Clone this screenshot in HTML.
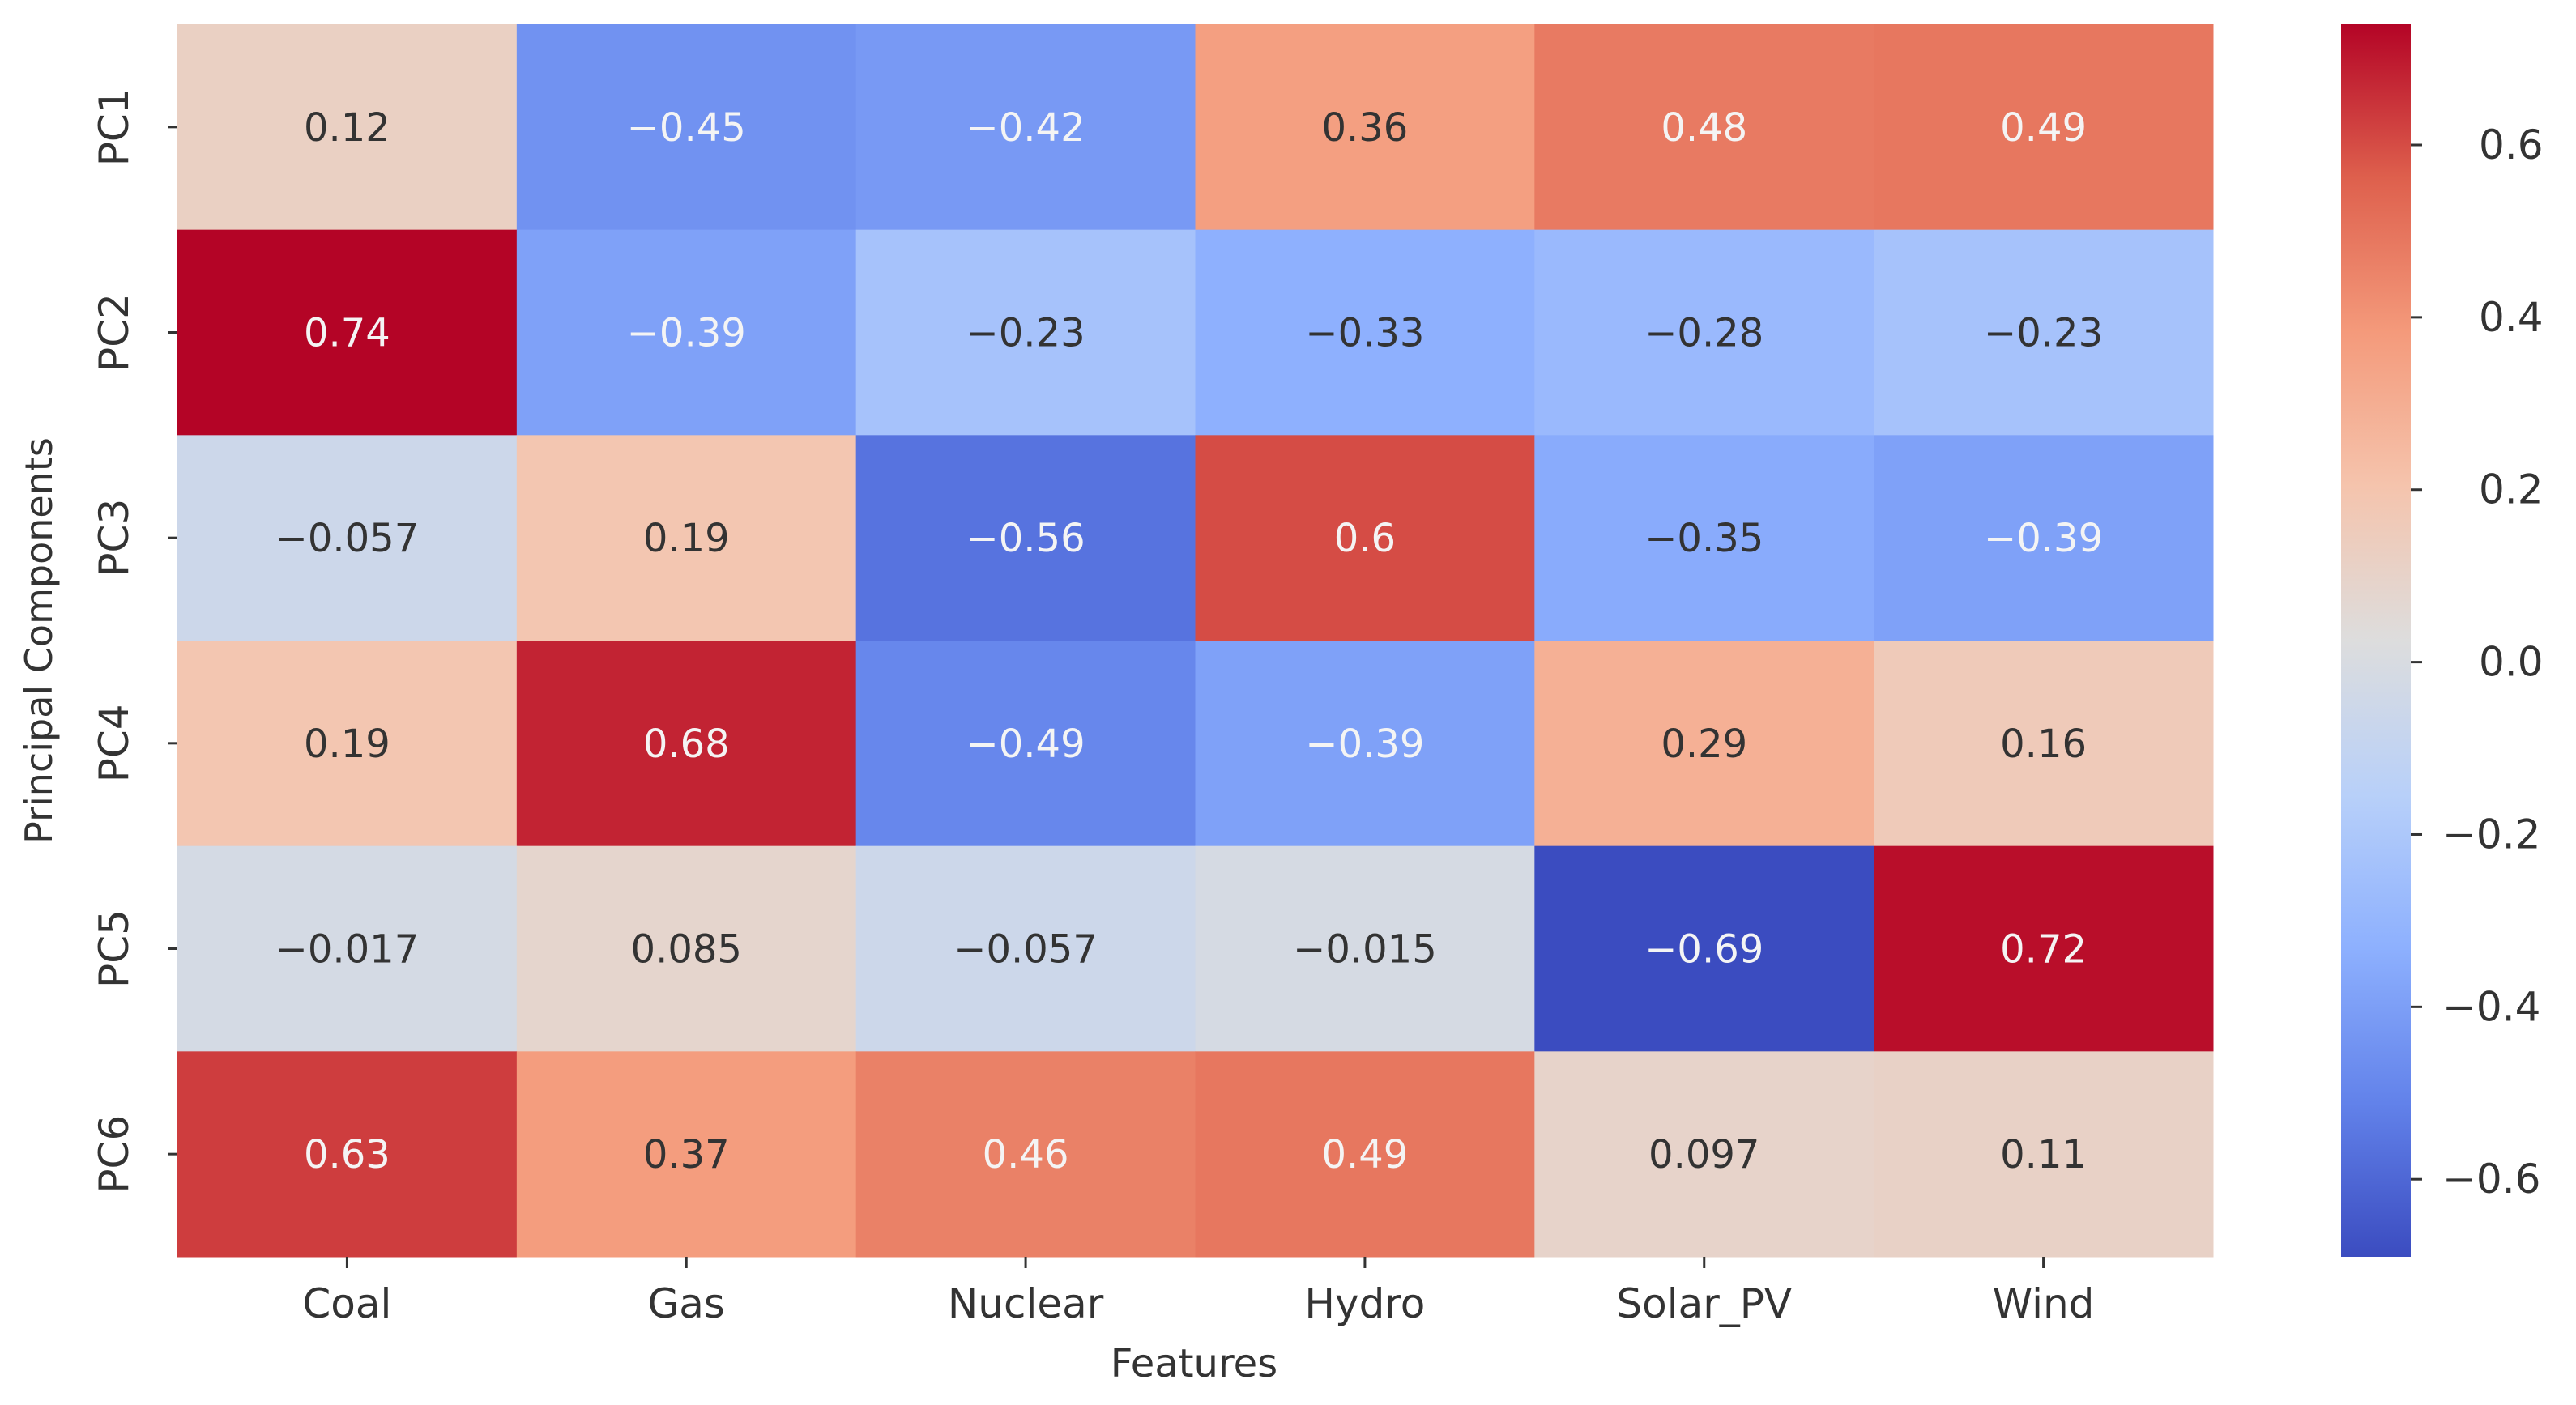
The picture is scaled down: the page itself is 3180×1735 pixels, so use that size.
<!DOCTYPE html>
<html><head><meta charset="utf-8"><style>
html,body{margin:0;padding:0;background:#fff;}
svg{display:block;font-family:"DejaVu Sans","Liberation Sans",sans-serif;}
</style></head><body>
<svg id="chart" width="3180" height="1735" viewBox="0 0 3180 1735" xmlns="http://www.w3.org/2000/svg">
<defs>
<linearGradient id="cbgrad" x1="0" y1="1" x2="0" y2="0">
<stop offset="0" stop-color="rgb(59,76,192)"/>
<stop offset="0.125" stop-color="rgb(98,130,234)"/>
<stop offset="0.25" stop-color="rgb(141,176,254)"/>
<stop offset="0.375" stop-color="rgb(184,208,249)"/>
<stop offset="0.5" stop-color="rgb(221,221,221)"/>
<stop offset="0.625" stop-color="rgb(245,196,173)"/>
<stop offset="0.75" stop-color="rgb(244,154,123)"/>
<stop offset="0.875" stop-color="rgb(222,96,77)"/>
<stop offset="1" stop-color="rgb(180,4,38)"/>
</linearGradient>
</defs>
<g id="cells"></g>
<g id="yticks"></g>
<g id="xticks"></g>
<text transform="translate(64,791) rotate(-90)" text-anchor="middle" font-size="46" fill="#333">Principal Components</text>
<text x="1474" y="1700" text-anchor="middle" font-size="48" fill="#333">Features</text>
<rect x="2890" y="30" width="86" height="1522" fill="url(#cbgrad)"/>
<g id="cbticks"></g>
</svg>
<script>
const features = ["Coal","Gas","Nuclear","Hydro","Solar_PV","Wind"];
const components = ["PC1","PC2","PC3","PC4","PC5","PC6"];
const rowPC1 = [0.12,-0.45,-0.42,0.36,0.48,0.49];
const rowPC2 = [0.74,-0.39,-0.23,-0.33,-0.28,-0.23];
const rowPC3 = [-0.057,0.19,-0.56,0.6,-0.35,-0.39];
const rowPC4 = [0.19,0.68,-0.49,-0.39,0.29,0.16];
const rowPC5 = [-0.017,0.085,-0.057,-0.015,-0.69,0.72];
const rowPC6 = [0.63,0.37,0.46,0.49,0.097,0.11];
const cbTicks = [0.6,0.4,0.2,0.0,-0.2,-0.4,-0.6];
const cbTickLabels = ["0.6","0.4","0.2","0.0","\u22120.2","\u22120.4","\u22120.6"];

const rows = [rowPC1,rowPC2,rowPC3,rowPC4,rowPC5,rowPC6];
const vmin = -0.69, vmax = 0.74;
const X0 = 219, X1 = 2732, Y0 = 30, Y1 = 1552;
const cw = (X1-X0)/features.length, ch = (Y1-Y0)/components.length;
const xPos = i => X0 + i*cw;
const yPos = j => Y0 + j*ch;
const cbY = v => Y1 - (v - vmin)/(vmax - vmin)*(Y1-Y0);
const stops = [[59,76,192],[98,130,234],[141,176,254],[184,208,249],[221,221,221],[245,196,173],[244,154,123],[222,96,77],[180,4,38]];
function cmap(v){
  let t = Math.max(0,Math.min(1,(v-vmin)/(vmax-vmin)))*8;
  let i = Math.min(7,Math.floor(t)), f = t-i;
  return stops[i].map((c,k)=>Math.round(c+(stops[i+1][k]-c)*f));
}
function lum(c){
  const l = c.map(x=>{x/=255;return x<=0.03928?x/12.92:Math.pow((x+0.055)/1.055,2.4);});
  return 0.2126*l[0]+0.7152*l[1]+0.0722*l[2];
}
const NS = "http://www.w3.org/2000/svg";
const cells = document.getElementById('cells');
const fmt = v => (v<0?"\u2212":"") + String(Math.abs(v));
rows.forEach((row,j)=>{
  row.forEach((v,i)=>{
    const c = cmap(v);
    const r = document.createElementNS(NS,'rect');
    r.setAttribute('x',xPos(i)); r.setAttribute('y',yPos(j));
    r.setAttribute('width',cw+0.5); r.setAttribute('height',ch+0.5);
    r.setAttribute('fill',`rgb(${c[0]},${c[1]},${c[2]})`);
    
    
    cells.appendChild(r);
    const t = document.createElementNS(NS,'text');
    t.setAttribute('x',xPos(i)+cw/2); t.setAttribute('y',yPos(j)+ch/2+17);
    t.setAttribute('text-anchor','middle'); t.setAttribute('font-size','48');
    t.setAttribute('fill', lum(c) > 0.408 ? '#333' : '#f4f4f4');
    
    
    t.textContent = fmt(v);
    cells.appendChild(t);
  });
});
const yt = document.getElementById('yticks');
components.forEach((p,j)=>{
  const cy = yPos(j)+ch/2;
  const l = document.createElementNS(NS,'line');
  l.setAttribute('x1',X0-12); l.setAttribute('x2',X0); l.setAttribute('y1',cy); l.setAttribute('y2',cy);
  l.setAttribute('stroke','#333'); l.setAttribute('stroke-width','3');
  
  
  yt.appendChild(l);
  const t = document.createElementNS(NS,'text');
  t.setAttribute('transform',`translate(158,${cy}) rotate(-90)`);
  t.setAttribute('text-anchor','middle'); t.setAttribute('font-size','50'); t.setAttribute('fill','#333');
  
  
  t.textContent = p;
  yt.appendChild(t);
});
const xt = document.getElementById('xticks');
features.forEach((f,i)=>{
  const cx = xPos(i)+cw/2;
  const l = document.createElementNS(NS,'line');
  l.setAttribute('x1',cx); l.setAttribute('x2',cx); l.setAttribute('y1',Y1); l.setAttribute('y2',Y1+14);
  l.setAttribute('stroke','#333'); l.setAttribute('stroke-width','3');
  
  
  xt.appendChild(l);
  const t = document.createElementNS(NS,'text');
  t.setAttribute('x',cx); t.setAttribute('y',1627);
  t.setAttribute('text-anchor','middle'); t.setAttribute('font-size','50'); t.setAttribute('fill','#333');
  
  
  t.textContent = f;
  xt.appendChild(t);
});
const cbt = document.getElementById('cbticks');
cbTicks.forEach((v,k)=>{
  const y = cbY(v);
  const l = document.createElementNS(NS,'line');
  l.setAttribute('x1',2976); l.setAttribute('x2',2990); l.setAttribute('y1',y); l.setAttribute('y2',y);
  l.setAttribute('stroke','#333'); l.setAttribute('stroke-width','3');
  
  
  cbt.appendChild(l);
  const t = document.createElementNS(NS,'text');
  t.setAttribute('x', v<0 ? 3015 : 3060); t.setAttribute('y',y+17);
  t.setAttribute('font-size','50'); t.setAttribute('fill','#333');
  
  
  t.textContent = cbTickLabels[k];
  cbt.appendChild(t);
});
</script>
</body></html>
